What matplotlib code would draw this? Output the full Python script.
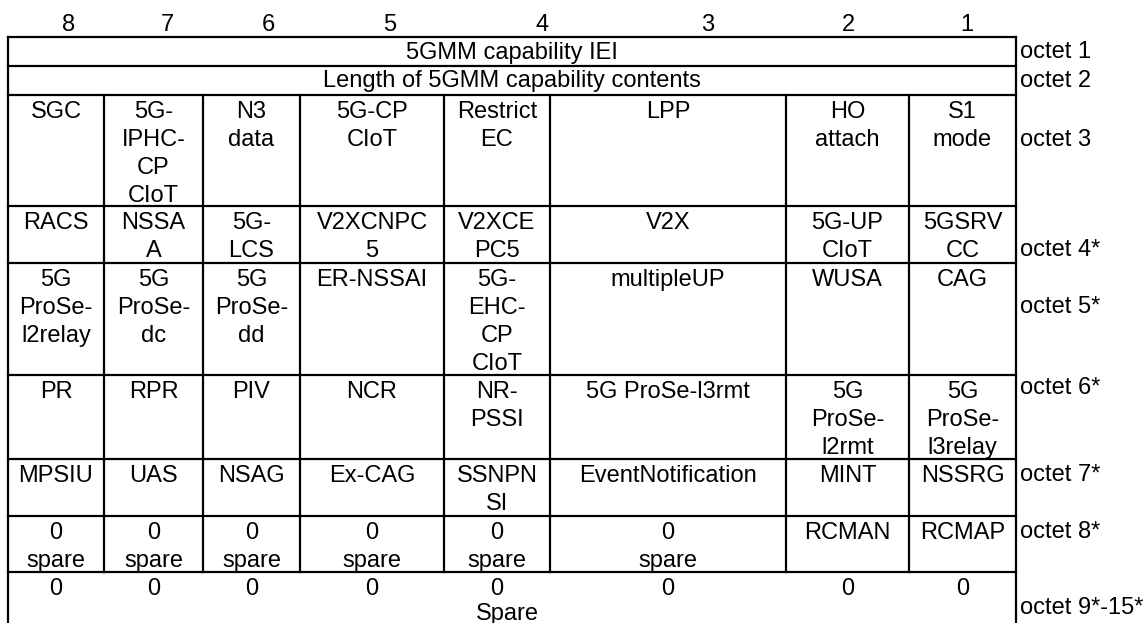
import matplotlib
matplotlib.use("Agg")
from matplotlib import pyplot as plt

# bit numbers above the table
bits = ["8", "7", "6", "5", "4", "3", "2", "1"]

# full width rows
iei_label = "5GMM capability IEI"
len_label = "Length of 5GMM capability contents"

# one list per octet, one entry per bit column (lines of text)
octet3 = [["SGC"], ["5G-", "IPHC-", "CP", "CIoT"], ["N3", "data"], ["5G-CP", "CIoT"],
          ["Restrict", "EC"], ["LPP"], ["HO", "attach"], ["S1", "mode"]]
octet4 = [["RACS"], ["NSSA", "A"], ["5G-", "LCS"], ["V2XCNPC", "5"],
          ["V2XCE", "PC5"], ["V2X"], ["5G-UP", "CIoT"], ["5GSRV", "CC"]]
octet5 = [["5G", "ProSe-", "l2relay"], ["5G", "ProSe-", "dc"], ["5G", "ProSe-", "dd"], ["ER-NSSAI"],
          ["5G-", "EHC-", "CP", "CIoT"], ["multipleUP"], ["WUSA"], ["CAG"]]
octet6 = [["PR"], ["RPR"], ["PIV"], ["NCR"], ["NR-", "PSSI"], ["5G ProSe-l3rmt"],
          ["5G", "ProSe-", "l2rmt"], ["5G", "ProSe-", "l3relay"]]
octet7 = [["MPSIU"], ["UAS"], ["NSAG"], ["Ex-CAG"], ["SSNPN", "SI"], ["EventNotification"],
          ["MINT"], ["NSSRG"]]
octet8 = [["0", "spare"]] * 6 + [["RCMAN"], ["RCMAP"]]
octet9 = [["0"]] * 8
spare_label = "Spare"

octet_labels = ["octet 1", "octet 2", "octet 3", "octet 4*", "octet 5*",
                "octet 6*", "octet 7*", "octet 8*", "octet 9*-15*"]

# layout (pixels)
W, H = 1147, 623
col_x = [8, 104, 203, 300, 444, 550, 786, 909, 1016]
row_y = [37, 66, 95, 206, 263, 375, 459, 516, 572, 623]
bit_x = [69, 167, 268, 390, 542, 708, 848, 967]
octet_y = [52, 81, 140, 250, 307, 388, 475, 532, 608]
fs = 17
lw = 1.6
pitch = 28
first = 23

fig = plt.figure(figsize=(W / 100, H / 100), dpi=100)
ax = fig.add_axes([0, 0, 1, 1])
ax.set_xlim(0, W)
ax.set_ylim(H, 0)
ax.axis("off")
plt.rcParams["font.family"] = ["Liberation Sans", "DejaVu Sans"]

for b, x in zip(bits, bit_x):
    ax.text(x, 25, b, ha="center", va="center", fontsize=fs)

# outer frame (open at the bottom)
ax.plot([col_x[0], col_x[-1]], [row_y[0], row_y[0]], color="black", lw=lw)
ax.plot([col_x[0], col_x[0]], [row_y[0], row_y[-1]], color="black", lw=lw)
ax.plot([col_x[-1], col_x[-1]], [row_y[0], row_y[-1]], color="black", lw=lw)
for y in row_y[1:-1]:
    ax.plot([col_x[0], col_x[-1]], [y, y], color="black", lw=lw)
# inner column lines from octet 3 down to octet 8
for x in col_x[1:-1]:
    ax.plot([x, x], [row_y[2], row_y[-2]], color="black", lw=lw)

mid = (col_x[0] + col_x[-1]) / 2
ax.text(mid, (row_y[0] + row_y[1]) / 2 + 1, iei_label, ha="center", va="center", fontsize=fs)
ax.text(mid, (row_y[1] + row_y[2]) / 2 + 1, len_label, ha="center", va="center", fontsize=fs)

rows = [octet3, octet4, octet5, octet6, octet7, octet8, octet9]
for r, cells in enumerate(rows):
    top = row_y[r + 2]
    for c, lines in enumerate(cells):
        cx = (col_x[c] + col_x[c + 1]) / 2
        for k, s in enumerate(lines):
            ax.text(cx, top + first + k * pitch, s, ha="center", va="baseline", fontsize=fs)

ax.text(mid - 5, row_y[-2] + first + pitch - 3, spare_label, ha="center", va="baseline", fontsize=fs)

for s, y in zip(octet_labels, octet_y):
    ax.text(col_x[-1] + 4, y, s, ha="left", va="center", fontsize=fs)

fig.savefig("out.png", dpi=100)
